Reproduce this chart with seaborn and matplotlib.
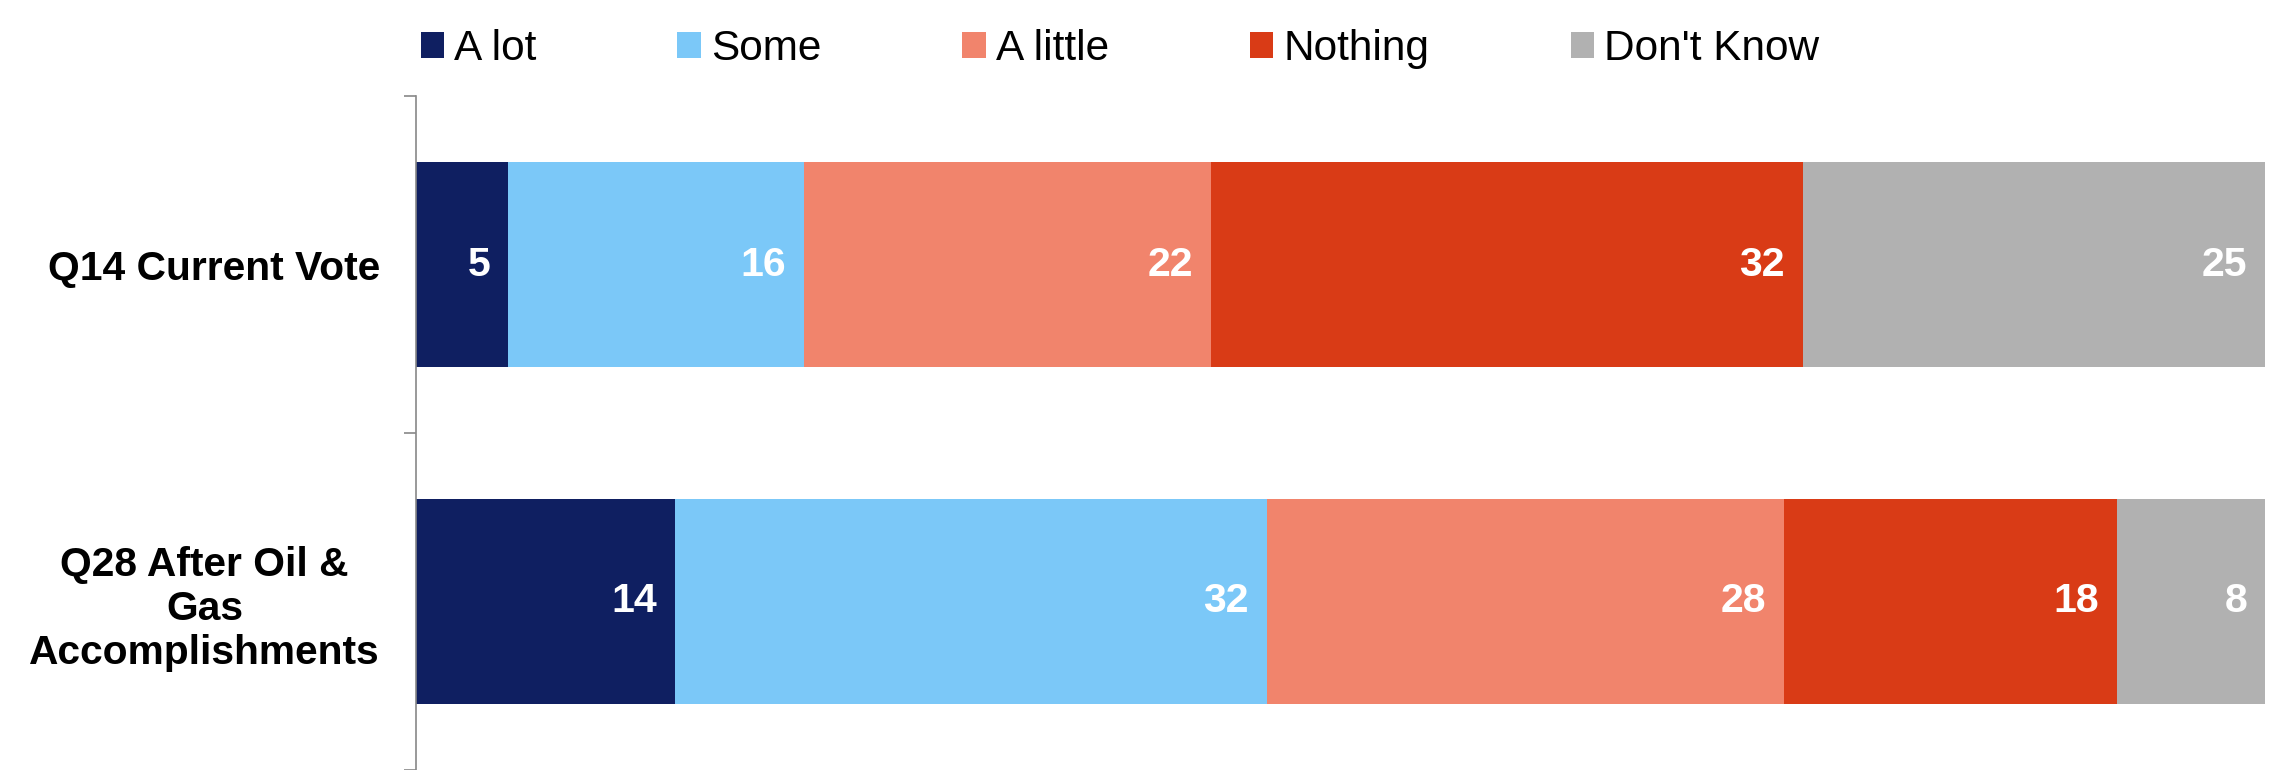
import matplotlib
matplotlib.use("Agg")
import matplotlib.pyplot as plt
from matplotlib.patches import Patch
import seaborn as sns
import pandas as pd
import numpy as np

categories = ["Q14 Current Vote", "Q28 After Oil &\nGas\nAccomplishments"]
series_names = ["A lot", "Some", "A little", "Nothing", "Don't Know"]
a_lot = [5, 14]
some = [16, 32]
a_little = [22, 28]
nothing = [32, 18]
dont_know = [25, 8]
colors = ["#0F1F61", "#7BC8F8", "#F1846C", "#D93B16", "#B1B1B1"]

sns.set_theme(style="white")
plt.rcParams['font.family'] = ['Liberation Sans', 'DejaVu Sans']

values = [a_lot, some, a_little, nothing, dont_know]
cum = np.cumsum(np.array(values), axis=0)

fig = plt.figure(figsize=(22.72, 7.7), dpi=100)
ax = fig.add_axes([416/2272, 0.0, (2265-416)/2272, (770-96)/770])

# draw cumulative bars from largest to smallest so each segment shows
for i in range(len(series_names) - 1, -1, -1):
    df = pd.DataFrame({"cat": categories, "val": cum[i]})
    sns.barplot(data=df, x="val", y="cat", orient="h", color=colors[i],
                saturation=1, width=0.61, ax=ax, edgecolor="none")

for i in range(len(series_names)):
    for j, cat in enumerate(categories):
        ax.annotate(str(values[i][j]), xy=(cum[i][j], j), xytext=(-18, 0),
                    textcoords="offset pixels", ha="right", va="center",
                    color="white", fontsize=29.5, fontweight="bold")

ax.set_xlim(0, 100)
ax.set_ylim(1.5, -0.5)
ax.set_xlabel("")
ax.set_ylabel("")
ax.set_xticks([])
ax.set_yticks([0, 1])
ax.set_yticklabels(categories, fontsize=29.3, fontweight="bold", color="black",
                   multialignment="center", linespacing=1.2)
ax.set_yticks([-0.5, 0.5, 1.5], minor=True)
ax.tick_params(axis="y", which="major", length=0, pad=26)
ax.tick_params(axis="y", which="minor", length=8.6, width=1.2, color="#888888", left=True)
for s in ["top", "right", "bottom"]:
    ax.spines[s].set_visible(False)
ax.spines["left"].set_color("#888888")
ax.spines["left"].set_linewidth(1.2)

handles = [Patch(facecolor=c, edgecolor="none") for c in colors]
leg = fig.legend(handles, series_names, loc="upper center", bbox_to_anchor=(0.493, 1.012),
                 ncol=5, frameon=False, fontsize=30.5, handlelength=0.55, handleheight=0.55,
                 handletextpad=0.25, columnspacing=3.32)
for t in leg.get_texts():
    t.set_color("black")

fig.savefig("out.png", dpi=100)
